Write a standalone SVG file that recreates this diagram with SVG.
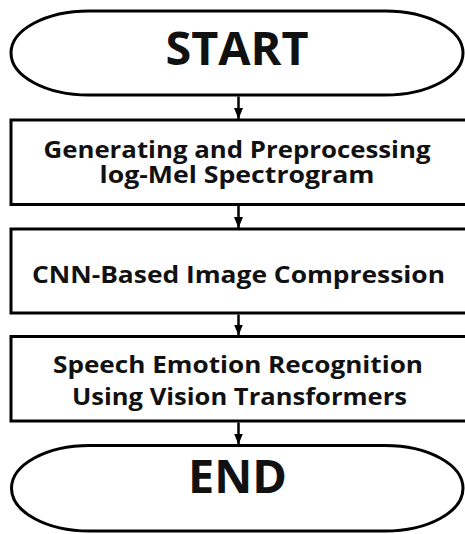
<svg xmlns="http://www.w3.org/2000/svg" width="465" height="534" viewBox="0 0 465 534">
  <style>
    .shape { fill: #ffffff; stroke: #000000; stroke-width: 3; }
    .label { font-family: "Open Sans", "Noto Sans", "DejaVu Sans", sans-serif; font-weight: bold; fill: #111111; text-anchor: middle; }
    .big { font-size: 46px; }
    .step { font-size: 23.5px; }
    .link { stroke: #000000; stroke-width: 2.5; fill: none; marker-end: url(#arrow); }
  </style>
  <defs>
    <!-- arrowhead points along the line direction (+x in marker space) -->
    <marker id="arrow" markerWidth="11" markerHeight="9" refX="11" refY="4.5" orient="auto" markerUnits="userSpaceOnUse" viewBox="0 0 11 9">
      <path d="M0,0 L11,4.5 L0,9 Z" fill="#000000"/>
    </marker>
  </defs>
  <rect width="465" height="534" fill="#ffffff"/>

  <g id="start">
    <rect class="shape" x="11" y="11" width="452" height="84" rx="78" ry="42"/>
    <text class="label big" x="237" y="65" textLength="143" lengthAdjust="spacingAndGlyphs">START</text>
  </g>

  <g id="step1">
    <rect class="shape" x="11" y="120" width="470" height="84.5"/>
    <text class="label step" x="237" y="158" textLength="387" lengthAdjust="spacingAndGlyphs">Generating and Preprocessing</text>
    <text class="label step" x="237" y="183" textLength="275" lengthAdjust="spacingAndGlyphs">log-Mel Spectrogram</text>
  </g>

  <g id="step2">
    <rect class="shape" x="11" y="229" width="470" height="84"/>
    <text class="label step" x="238.5" y="282.5" textLength="413" lengthAdjust="spacingAndGlyphs">CNN-Based Image Compression</text>
  </g>

  <g id="step3">
    <rect class="shape" x="11" y="336.5" width="470" height="84.5"/>
    <text class="label step" x="238" y="373" textLength="370" lengthAdjust="spacingAndGlyphs">Speech Emotion Recognition</text>
    <text class="label step" x="239.5" y="405" textLength="335" lengthAdjust="spacingAndGlyphs">Using Vision Transformers</text>
  </g>

  <g id="end">
    <rect class="shape" x="11.5" y="445.5" width="451.5" height="85.5" rx="78" ry="42.75"/>
    <text class="label big" x="237.5" y="493" textLength="99" lengthAdjust="spacingAndGlyphs">END</text>
  </g>

  <g id="connectors">
    <line class="link" x1="238.5" y1="96.5" x2="238.5" y2="119"/>
    <line class="link" x1="238.5" y1="206" x2="238.5" y2="228"/>
    <line class="link" x1="238.5" y1="314.5" x2="238.5" y2="335.5"/>
    <line class="link" x1="238.5" y1="422.5" x2="238.5" y2="444.5"/>
  </g>
</svg>
